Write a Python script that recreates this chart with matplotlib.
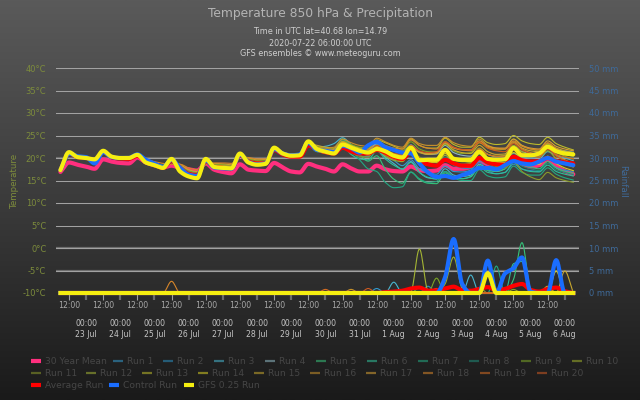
import numpy as np
import pandas as pd
import matplotlib
matplotlib.use("Agg")
import matplotlib.pyplot as plt
import matplotlib.dates as mdates
from matplotlib.colors import LinearSegmentedColormap
from matplotlib.lines import Line2D

plt.rcParams['font.family'] = ['DejaVu Sans']

# ---------------- data ----------------
start = "2020-07-22 06:00"
times = pd.date_range(start, periods=61, freq="6h")

title = "Temperature 850 hPa & Precipitation"
subtitle = ["Time in UTC lat=40.68 lon=14.79", "2020-07-22 06:00:00 UTC",
            "GFS ensembles \u00a9 www.meteoguru.com"]

temp_ticks = [-10, -5, 0, 5, 10, 15, 20, 25, 30, 35, 40]
rain_ticks = [0, 5, 10, 15, 20, 25, 30, 35, 40, 45, 50]

mean30 = [16.9, 19.0, 18.5, 18.1, 17.6, 19.7, 19.2, 18.9, 18.8, 20.1,
          19.0, 18.4, 17.9, 18.3, 17.8, 17.5, 17.2, 18.8, 17.4, 16.9,
          16.6, 18.6, 17.4, 17.2, 17.1, 18.9, 17.9, 17.0, 16.8, 18.7,
          18.1, 17.6, 17.0, 18.6, 17.7, 17.0, 17.0, 18.3, 17.5, 17.1,
          17.0, 18.1, 17.3, 17.1, 17.2, 18.4, 17.6, 17.6, 18.0, 19.3,
          18.6, 18.3, 18.5, 19.6, 18.7, 18.1, 18.4, 19.6, 18.2, 17.1, 16.4]

gfs025_run = [17.3, 21.3, 20.2, 20.0, 19.7, 21.6, 20.3, 20.0, 20.0, 20.7,
              19.0, 18.4, 17.8, 19.8, 17.0, 15.9, 15.5, 19.8, 18.0, 17.8,
              17.7, 21.0, 19.0, 18.5, 18.7, 22.3, 21.0, 20.5, 20.6, 23.7,
              22.0, 21.4, 21.0, 23.0, 22.3, 21.6, 21.2, 22.0, 21.5, 20.5,
              20.1, 22.3, 19.5, 19.6, 19.6, 21.8, 19.8, 19.6, 19.6, 21.4,
              19.8, 19.6, 19.7, 22.2, 20.6, 20.6, 21.0, 22.5, 21.5, 21.0, 20.8]

control_run = [17.3, 21.0, 20.4, 20.2, 18.8, 21.3, 20.2, 20.0, 20.0, 20.8,
               19.6, 18.8, 18.0, 19.6, 17.8, 16.3, 16.0, 19.5, 17.9, 17.7,
               17.6, 20.8, 19.1, 18.6, 18.8, 22.0, 21.0, 20.6, 20.8, 23.4,
               21.8, 21.6, 21.3, 22.7, 22.2, 21.2, 22.8, 23.6, 22.4, 21.8,
               21.2, 21.0, 18.8, 16.8, 15.8, 16.0, 15.6, 16.2, 16.8, 17.8,
               17.8, 17.5, 18.4, 19.3, 18.8, 18.6, 19.2, 20.0, 19.2, 18.8, 18.4]

average_run = [17.3, 21.0, 20.2, 20.0, 19.5, 21.3, 20.2, 19.9, 19.8, 20.5,
               19.2, 18.5, 17.8, 19.4, 17.8, 16.5, 16.2, 19.3, 18.0, 17.8,
               17.6, 20.6, 19.2, 18.8, 18.8, 21.8, 20.8, 20.3, 20.3, 22.8,
               21.9, 21.3, 21.0, 22.3, 21.5, 21.0, 21.0, 21.8, 21.2, 20.3,
               19.8, 21.3, 19.5, 18.6, 18.3, 19.6, 18.8, 18.3, 18.3, 20.0,
               19.0, 18.6, 18.5, 20.3, 19.5, 19.2, 19.3, 20.0, 19.3, 19.0, 18.8]

run01 = [17.3, 21.0, 20.3, 20.1, 19.5, 21.4, 20.4, 20.1, 19.9, 20.6, 19.3, 18.7,
         18.0, 19.3, 17.9, 16.6, 16.2, 19.4, 18.2, 18.0, 17.9, 20.6, 19.3, 18.9, 19.0, 21.8, 20.8, 20.4,
         20.5, 22.9, 21.6, 21.0, 20.8, 22.4, 21.4, 20.5, 20.3, 22.6, 21.0, 19.5, 18.3, 19.6, 17.6, 16.8,
         16.4, 18.2, 17.0, 16.9, 17.3, 19.4, 18.6, 18.5, 18.9, 21.0, 20.2, 20.0, 20.3, 22.4, 21.8, 21.6, 21.3]
run02 = [17.2, 21.2, 20.1, 19.9, 19.8, 21.5, 20.2, 20.0, 20.1, 20.8, 19.1, 18.5,
         17.9, 19.6, 17.7, 16.2, 15.9, 19.6, 18.1, 17.9, 17.6, 20.8, 19.1, 18.6, 18.9, 22.1, 20.9, 20.6,
         20.7, 23.4, 22.2, 21.8, 21.9, 24.0, 22.9, 22.0, 21.5, 23.0, 21.8, 20.6, 19.8, 21.5, 19.3, 18.6,
         18.3, 20.0, 18.4, 17.8, 17.6, 19.0, 17.2, 16.5, 16.8, 18.6, 17.5, 17.2, 17.0, 18.8, 17.9, 17.3, 17.0]
run03 = [17.3, 21.1, 20.2, 20.0, 19.6, 21.5, 20.3, 19.9, 19.9, 20.6, 19.2, 18.6,
         18.1, 19.2, 18.3, 17.0, 16.6, 18.9, 18.3, 18.2, 18.0, 20.3, 19.5, 19.0, 19.1, 21.6, 21.0, 20.6,
         20.5, 23.0, 22.4, 22.6, 23.2, 24.5, 23.0, 21.6, 20.6, 21.8, 20.2, 18.8, 17.5, 19.2, 16.8, 15.6,
         15.4, 17.6, 16.2, 15.9, 16.2, 18.6, 17.4, 17.0, 17.6, 20.2, 19.1, 19.0, 19.6, 21.4, 20.6, 20.0, 19.4]
run04 = [17.4, 21.2, 20.2, 20.0, 19.7, 21.6, 20.3, 20.0, 20.0, 20.7, 19.0, 18.4,
         17.8, 19.8, 17.6, 16.0, 15.8, 19.7, 18.0, 17.8, 17.7, 21.0, 19.1, 18.6, 18.8, 22.2, 21.1, 20.6,
         20.8, 23.5, 22.0, 21.4, 21.2, 23.2, 22.6, 22.0, 21.8, 23.2, 22.4, 21.6, 21.2, 22.9, 21.4, 20.8,
         20.9, 22.8, 21.2, 20.6, 20.4, 22.0, 20.8, 20.3, 20.5, 22.6, 21.4, 21.0, 21.2, 23.0, 22.0, 21.4, 21.2]
run05 = [17.3, 21.0, 20.3, 20.2, 19.8, 21.4, 20.4, 20.2, 20.1, 20.5, 19.4, 18.9,
         18.4, 19.0, 18.0, 17.1, 16.8, 18.9, 18.3, 18.4, 18.2, 20.2, 19.4, 19.1, 19.3, 21.6, 20.7, 20.3,
         20.4, 22.6, 21.4, 21.2, 22.0, 24.2, 22.6, 20.8, 19.3, 20.5, 17.5, 15.3, 14.4, 16.9, 15.2, 14.4,
         14.3, 16.7, 15.6, 15.4, 15.9, 18.3, 17.2, 17.1, 17.6, 20.0, 18.6, 18.0, 17.6, 19.2, 17.8, 17.0, 16.6]
run06 = [17.2, 21.1, 20.2, 20.0, 19.6, 21.4, 20.3, 20.0, 20.0, 20.6, 19.1, 18.5,
         17.9, 19.5, 17.9, 16.4, 16.1, 19.4, 18.1, 17.9, 17.8, 20.8, 19.2, 18.8, 18.9, 22.0, 20.9, 20.4,
         20.6, 23.2, 21.8, 21.2, 21.0, 22.6, 20.8, 19.8, 19.6, 21.6, 19.8, 18.4, 17.6, 19.0, 16.8, 15.7,
         15.3, 17.0, 15.8, 15.4, 15.8, 18.0, 16.8, 16.5, 16.8, 19.0, 17.6, 17.0, 16.9, 18.4, 17.0, 16.4, 16.0]
run07 = [17.3, 21.2, 20.2, 20.0, 19.7, 21.5, 20.2, 19.9, 19.9, 20.7, 19.0, 18.3,
         17.7, 19.7, 17.4, 15.8, 15.6, 19.9, 17.9, 17.6, 17.6, 21.1, 18.9, 18.4, 18.6, 22.4, 21.0, 20.5,
         20.6, 23.8, 22.3, 21.8, 21.6, 23.6, 22.0, 19.6, 17.6, 17.0, 14.6, 13.4, 13.6, 16.8, 15.4, 14.6,
         14.8, 17.0, 15.6, 15.0, 15.0, 17.4, 16.0, 15.6, 15.8, 18.2, 16.8, 16.2, 16.2, 17.8, 16.4, 15.6, 15.1]
run08 = [17.3, 21.1, 20.1, 20.0, 19.7, 21.6, 20.3, 20.0, 20.0, 20.7, 19.0, 18.4,
         17.8, 19.7, 17.6, 16.0, 15.7, 19.7, 18.0, 17.8, 17.7, 20.9, 19.0, 18.5, 18.7, 22.2, 21.0, 20.5,
         20.6, 23.6, 22.2, 21.6, 21.3, 23.2, 22.0, 21.3, 21.0, 22.4, 21.2, 20.3, 19.8, 21.8, 19.2, 18.4,
         18.2, 20.2, 18.8, 18.3, 18.2, 20.0, 18.6, 18.0, 17.8, 19.6, 18.2, 17.6, 17.2, 18.8, 17.4, 16.8, 16.3]
run09 = [17.3, 21.3, 20.2, 20.0, 19.7, 21.6, 20.3, 20.0, 20.0, 20.7, 19.1, 18.5,
         18.0, 19.6, 18.3, 17.2, 16.8, 19.2, 18.6, 18.5, 18.4, 20.6, 19.8, 19.5, 19.6, 21.9, 21.3, 20.9,
         21.0, 23.3, 22.6, 22.2, 22.0, 23.8, 23.0, 22.4, 22.2, 23.8, 22.6, 21.8, 21.6, 23.6, 22.0, 21.4,
         21.3, 23.0, 21.6, 21.0, 21.2, 23.4, 22.2, 21.8, 22.0, 24.2, 22.8, 22.0, 21.6, 23.0, 21.4, 20.4, 19.8]
run10 = [17.3, 21.2, 20.2, 20.0, 19.7, 21.5, 20.3, 20.0, 20.0, 20.7, 18.8, 18.1,
         17.5, 19.9, 17.2, 15.7, 15.4, 19.9, 17.9, 17.7, 17.6, 21.2, 18.9, 18.4, 18.6, 22.4, 21.2, 20.7,
         20.8, 23.9, 22.2, 21.6, 21.4, 23.4, 22.0, 21.2, 20.8, 22.0, 20.4, 19.5, 19.2, 21.4, 19.6, 19.2,
         19.4, 21.6, 20.2, 19.8, 20.0, 22.2, 20.8, 20.4, 20.6, 22.8, 21.4, 20.6, 20.2, 21.6, 19.8, 18.6, 18.0]
run11 = [17.2, 21.3, 20.2, 20.0, 19.7, 21.6, 20.3, 20.0, 20.0, 20.7, 19.0, 18.3,
         17.6, 19.9, 17.8, 16.6, 16.3, 19.0, 18.0, 17.9, 17.8, 20.8, 19.0, 18.5, 18.6, 22.0, 20.8, 20.3,
         20.4, 23.0, 21.6, 21.0, 20.8, 22.6, 21.2, 20.4, 20.2, 22.4, 20.6, 19.8, 19.6, 21.8, 20.2, 19.6,
         19.6, 21.8, 20.2, 19.4, 19.0, 20.8, 19.0, 18.2, 17.8, 19.2, 17.0, 15.8, 15.2, 16.8, 15.6, 15.0, 14.6]
run12 = [17.3, 21.3, 20.2, 20.0, 19.7, 21.6, 20.3, 20.0, 20.0, 20.7, 19.0, 18.4,
         17.8, 19.8, 17.5, 15.9, 15.6, 19.8, 18.0, 17.8, 17.7, 21.0, 19.0, 18.5, 18.7, 22.3, 21.0, 20.5,
         20.6, 23.7, 22.0, 21.4, 21.0, 23.0, 22.3, 21.6, 21.2, 22.0, 21.3, 20.4, 20.0, 22.0, 19.2, 18.4,
         18.6, 20.6, 19.0, 18.6, 18.8, 21.0, 19.8, 19.6, 19.7, 22.0, 20.6, 20.4, 20.8, 22.4, 21.4, 20.8, 20.4]
run13 = [17.4, 21.3, 20.2, 20.0, 19.7, 21.6, 20.4, 20.1, 20.0, 20.8, 19.0, 18.4,
         17.9, 19.8, 17.8, 16.4, 16.0, 19.5, 18.2, 18.0, 17.9, 21.0, 19.4, 18.9, 19.0, 22.2, 21.2, 20.8,
         20.9, 23.6, 22.4, 22.0, 21.8, 23.6, 22.8, 22.2, 22.0, 24.0, 23.4, 22.6, 22.0, 24.2, 22.8, 22.2,
         22.2, 24.4, 23.0, 22.4, 22.4, 24.6, 23.4, 23.0, 23.2, 25.0, 23.8, 23.2, 23.0, 24.6, 23.2, 22.4, 21.8]
run14 = [17.3, 21.4, 20.2, 20.0, 19.7, 21.6, 20.3, 20.0, 20.0, 20.7, 19.0, 18.4,
         17.8, 19.9, 17.4, 15.8, 15.5, 19.9, 17.9, 17.7, 17.6, 21.0, 18.9, 18.4, 18.7, 22.3, 21.0, 20.5,
         20.6, 23.6, 21.8, 21.2, 20.8, 22.8, 21.8, 21.2, 21.0, 22.6, 21.4, 20.4, 19.9, 21.8, 19.6, 19.0,
         19.0, 21.0, 19.6, 19.2, 19.2, 21.2, 19.6, 19.0, 19.0, 21.2, 19.6, 18.8, 18.6, 20.4, 18.8, 17.8, 17.2]
run15 = [17.3, 21.2, 20.2, 20.0, 19.7, 21.5, 20.3, 20.1, 20.1, 20.6, 19.4, 18.8,
         18.3, 19.2, 18.6, 17.4, 17.0, 18.8, 18.8, 18.7, 18.5, 20.4, 20.0, 19.6, 19.7, 21.8, 21.2, 20.8,
         20.9, 23.2, 22.8, 22.4, 22.2, 23.6, 22.4, 21.6, 21.2, 22.8, 21.8, 21.0, 20.6, 22.6, 21.2, 20.8,
         21.0, 23.2, 21.8, 21.2, 21.0, 22.8, 21.4, 20.8, 20.9, 23.4, 22.2, 21.6, 21.4, 23.2, 22.2, 21.6, 21.2]
run16 = [17.3, 21.2, 20.2, 20.0, 19.7, 21.6, 20.3, 20.0, 20.0, 20.7, 19.2, 18.6,
         18.0, 19.5, 18.0, 16.8, 16.4, 19.3, 18.4, 18.3, 18.2, 20.7, 19.6, 19.2, 19.3, 21.9, 21.1, 20.7,
         20.8, 23.1, 22.4, 22.2, 22.4, 24.2, 23.4, 22.8, 22.6, 24.4, 23.6, 22.8, 22.4, 24.4, 23.2, 22.8,
         22.8, 24.6, 23.4, 22.8, 22.6, 24.2, 22.8, 22.2, 22.0, 23.6, 22.0, 21.2, 20.8, 22.2, 20.6, 19.6, 18.8]
run17 = [17.3, 21.2, 20.2, 20.0, 19.7, 21.6, 20.3, 20.0, 20.0, 20.7, 19.0, 18.4,
         17.8, 19.7, 17.6, 16.1, 15.8, 19.7, 18.1, 17.9, 17.8, 21.0, 19.1, 18.6, 18.8, 22.2, 21.0, 20.5,
         20.6, 23.5, 22.0, 21.4, 21.2, 23.0, 22.0, 21.2, 20.9, 22.5, 21.4, 20.6, 20.4, 22.5, 21.4, 21.0,
         21.2, 23.4, 22.2, 21.8, 21.8, 23.8, 22.6, 22.2, 22.2, 24.2, 22.8, 22.2, 22.0, 23.8, 22.6, 22.0, 21.6]
run18 = [17.3, 21.1, 20.3, 20.1, 19.8, 21.4, 20.5, 20.3, 20.2, 20.5, 19.6, 19.2,
         18.8, 18.6, 18.6, 17.8, 17.4, 18.6, 18.9, 18.9, 18.8, 20.2, 20.1, 19.8, 19.8, 21.6, 21.2, 20.9,
         21.0, 22.8, 22.2, 21.8, 21.8, 23.4, 22.6, 22.0, 21.8, 23.6, 22.8, 22.2, 22.0, 24.0, 22.8, 22.2,
         22.0, 23.6, 22.4, 21.8, 21.6, 23.4, 22.4, 22.0, 22.0, 23.8, 22.6, 22.0, 21.8, 23.4, 22.0, 21.2, 20.6]
run19 = [17.3, 21.2, 20.2, 20.0, 19.7, 21.6, 20.3, 20.0, 20.0, 20.7, 19.1, 18.5,
         17.9, 19.6, 17.9, 16.5, 16.2, 19.4, 18.2, 18.1, 18.0, 20.8, 19.3, 18.8, 18.9, 22.0, 20.9, 20.4,
         20.5, 23.2, 21.8, 21.2, 21.0, 22.8, 21.8, 21.0, 20.7, 22.2, 20.8, 19.8, 19.4, 21.2, 19.8, 19.2,
         19.2, 21.4, 20.0, 19.6, 19.8, 22.0, 20.8, 20.4, 20.4, 22.4, 21.0, 20.4, 20.2, 22.0, 20.8, 20.2, 19.8]
run20 = [17.3, 21.1, 20.2, 20.0, 19.6, 21.6, 20.3, 20.0, 20.0, 20.7, 19.0, 18.4,
         17.8, 19.7, 17.5, 16.0, 15.7, 19.7, 18.0, 17.8, 17.7, 21.0, 19.0, 18.5, 18.7, 22.3, 21.0, 20.5,
         20.6, 23.6, 22.0, 21.4, 21.2, 23.0, 22.2, 21.6, 21.2, 22.8, 21.6, 21.0, 20.8, 22.8, 21.6, 21.2,
         21.4, 23.6, 22.4, 21.9, 21.8, 23.6, 22.2, 21.6, 21.4, 23.2, 21.8, 21.0, 20.6, 22.0, 20.4, 19.4, 18.6]

runs_temp = [run01, run02, run03, run04, run05, run06, run07, run08, run09, run10,
             run11, run12, run13, run14, run15, run16, run17, run18, run19, run20]
run_names = ["Run %d" % k for k in range(1, 21)]

# precipitation (mm), only non-zero 6-hourly values listed
rain_control = {"2020-08-02 12:00": 3.5, "2020-08-02 18:00": 12.0, "2020-08-03 00:00": 2.0,
                "2020-08-03 18:00": 7.2, "2020-08-04 06:00": 4.3, "2020-08-04 12:00": 5.5,
                "2020-08-04 18:00": 7.9, "2020-08-05 00:00": 0.3, "2020-08-05 18:00": 7.3}
rain_gfs025 = {"2020-08-03 18:00": 4.4}
rain_average = {"2020-07-31 18:00": 0.2, "2020-08-01 00:00": 0.3, "2020-08-01 06:00": 0.5,
                "2020-08-01 12:00": 1.0, "2020-08-01 18:00": 1.2, "2020-08-02 00:00": 0.5,
                "2020-08-02 06:00": 0.6, "2020-08-02 12:00": 1.0, "2020-08-02 18:00": 1.4,
                "2020-08-03 00:00": 0.6, "2020-08-03 06:00": 0.5, "2020-08-03 12:00": 0.9,
                "2020-08-03 18:00": 1.3, "2020-08-04 00:00": 0.6, "2020-08-04 06:00": 0.9,
                "2020-08-04 12:00": 1.6, "2020-08-04 18:00": 2.0, "2020-08-05 00:00": 0.7,
                "2020-08-05 06:00": 0.3, "2020-08-05 12:00": 0.9, "2020-08-05 18:00": 1.2,
                "2020-08-06 00:00": 0.4}
rain_runs = {
    "Run 1": {"2020-07-31 12:00": 1.0, "2020-08-01 06:00": 0.6},
    "Run 2": {"2020-08-02 00:00": 1.5},
    "Run 3": {"2020-08-01 00:00": 2.4, "2020-08-03 06:00": 4.0},
    "Run 5": {"2020-08-04 12:00": 3.0, "2020-08-04 18:00": 11.2, "2020-08-05 00:00": 1.0},
    "Run 6": {"2020-08-04 12:00": 6.5, "2020-08-04 18:00": 7.0},
    "Run 7": {"2020-08-04 00:00": 6.0},
    "Run 9": {"2020-08-01 18:00": 1.2, "2020-08-02 06:00": 3.3},
    "Run 10": {"2020-08-02 12:00": 2.0, "2020-08-02 18:00": 8.0, "2020-08-03 00:00": 1.0},
    "Run 11": {"2020-08-03 12:00": 1.2, "2020-08-04 12:00": 0.8},
    "Run 12": {"2020-08-01 12:00": 0.3, "2020-08-01 18:00": 9.8, "2020-08-02 00:00": 0.5},
    "Run 13": {"2020-08-05 12:00": 0.8},
    "Run 14": {"2020-08-05 18:00": 4.9},
    "Run 15": {"2020-08-05 12:00": 1.5, "2020-08-06 00:00": 4.9},
    "Run 16": {"2020-07-30 18:00": 0.8},
    "Run 17": {"2020-08-02 06:00": 1.0},
    "Run 18": {"2020-07-25 12:00": 2.6},
    "Run 19": {"2020-07-30 00:00": 0.8},
    "Run 20": {"2020-07-31 06:00": 1.0},
}

# ---------------- style ----------------
c_mean = "#ff2f7e"
c_avg = "#ff0000"
c_ctrl = "#1a6dff"
c_gfs = "#f5ee10"
run_colors = ["#3399cc", "#2a8fc0", "#48b6d0", "#8fb8c4", "#36c27a", "#2fbf9a", "#22a882",
              "#1f8a78", "#7aa526", "#9fb02a", "#8a9a2a", "#a4b534", "#bdbb2a", "#d6cc22",
              "#c8a72e", "#c9922a", "#d7a033", "#d7862a", "#d46c22", "#cc5a22"]


def rain_series(d):
    s = pd.Series(0.0, index=times)
    for k, v in d.items():
        s[pd.Timestamp(k)] = v
    return s.values


def smooth(x, y, n=12):
    """monotone cubic (spline-like) rendering between the given points"""
    x = np.asarray(x, float)
    y = np.asarray(y, float)
    h = np.diff(x)
    d = np.diff(y) / h
    m = np.zeros_like(y)
    m[0], m[-1] = d[0], d[-1]
    for k in range(1, len(y) - 1):
        if d[k - 1] * d[k] > 0:
            m[k] = 2.0 / (1.0 / d[k - 1] + 1.0 / d[k])
    xs, ys = [], []
    for k in range(len(y) - 1):
        t = np.linspace(0, 1, n, endpoint=False)
        h00 = 2 * t**3 - 3 * t**2 + 1
        h10 = t**3 - 2 * t**2 + t
        h01 = -2 * t**3 + 3 * t**2
        h11 = t**3 - t**2
        xs.append(x[k] + t * h[k])
        ys.append(h00 * y[k] + h10 * h[k] * m[k] + h01 * y[k + 1] + h11 * h[k] * m[k + 1])
    xs.append([x[-1]])
    ys.append([y[-1]])
    return np.concatenate(xs), np.concatenate(ys)


W, H = 640, 400
fig = plt.figure(figsize=(6.4, 4.0), dpi=100)

bg = fig.add_axes([0, 0, 1, 1], zorder=-10)
grad = np.linspace(0, 1, 256)[:, None]
bg.imshow(grad, aspect="auto", extent=[0, 1, 0, 1],
          cmap=LinearSegmentedColormap.from_list("bg", ["#5a5a5a", "#3b3b3b", "#1a1a1a"]))
bg.axis("off")

ax = fig.add_axes([56 / W, 1 - 293 / H, 523 / W, 225 / H])
ax.set_facecolor("none")
ax2 = ax.twinx()
ax2.set_facecolor("none")

xn = mdates.date2num(times)
t0 = times[0]
ax.set_xlim(mdates.date2num(t0 - pd.Timedelta(hours=3.1)),
            mdates.date2num(t0 + pd.Timedelta(hours=364)))
ax.set_ylim(-10, 40)
ax2.set_ylim(0, 50)

# grid
ax.set_yticks(temp_ticks)
ax.set_yticklabels(["%d\u00b0C" % v for v in temp_ticks])
ax.grid(axis="y", color="#a2a2a2", lw=0.75, zorder=0)
for v in (20, 0, -5):
    ax.axhline(v, color="#6c6c6c", lw=1.6, zorder=0.5)
ax2.set_yticks(rain_ticks)
ax2.set_yticklabels(["%d mm" % v for v in rain_ticks])

for a in (ax, ax2):
    for s in a.spines.values():
        s.set_visible(False)

ax.tick_params(axis="y", length=0, pad=7, labelsize=6, labelcolor="#7d8c3c")
ax2.tick_params(axis="y", length=0, pad=7, labelsize=6, labelcolor="#3f6a99")

ax.xaxis.set_major_locator(mdates.HourLocator(byhour=12))
ax.xaxis.set_major_formatter(mdates.DateFormatter("%H:%M"))
ax.xaxis.set_minor_locator(mdates.HourLocator(byhour=0))
ax.xaxis.set_minor_formatter(mdates.DateFormatter("%H:%M\n%-d %b"))
ax.tick_params(axis="x", which="major", length=5, width=0.8, color="#a0a0a0",
               labelsize=5.6, labelcolor="#a8a8a8", pad=1)
ax.tick_params(axis="x", which="minor", length=5, width=1.6, color="#6a6a6a",
               labelsize=5.6, labelcolor="#c4c4c4", pad=14)

# temperature series
ax.plot(*smooth(xn, mean30), color=c_mean, lw=3.0, zorder=2, solid_capstyle="round", clip_on=False)
for vals, col in zip(runs_temp, run_colors):
    ax.plot(*smooth(xn, vals), color=col, lw=0.8, zorder=3, clip_on=False)
ax.plot(*smooth(xn, average_run), color=c_avg, lw=3.0, zorder=4, solid_capstyle="round", clip_on=False)
ax.plot(*smooth(xn, control_run), color=c_ctrl, lw=3.0, zorder=5, solid_capstyle="round", clip_on=False)
ax.plot(*smooth(xn, gfs025_run), color=c_gfs, lw=3.0, zorder=6, solid_capstyle="round", clip_on=False)

# precipitation series
for name, col in zip(run_names, run_colors):
    ax2.plot(*smooth(xn, rain_series(rain_runs.get(name, {}))), color=col, lw=0.8, zorder=3, clip_on=False)
ax2.plot(*smooth(xn, rain_series(rain_average)), color=c_avg, lw=3.0, zorder=4, clip_on=False)
ax2.plot(*smooth(xn, rain_series(rain_control)), color=c_ctrl, lw=3.0, zorder=5, clip_on=False)
ax2.plot(*smooth(xn, rain_series(rain_gfs025)), color=c_gfs, lw=3.0, zorder=6, clip_on=False)

# titles and axis titles
fig.text(0.5, 1 - 13 / H, title, ha="center", va="center", fontsize=8.8, color="#b4b4b4")
for k, s in enumerate(subtitle):
    fig.text(0.5, 1 - (32 + 11 * k) / H, s, ha="center", va="center", fontsize=5.8, color="#cfcfcf")
fig.text(15 / W, 1 - 181 / H, "Temperature", rotation=90, ha="center", va="center",
         fontsize=6.3, color="#7d8c3c")
fig.text(623 / W, 1 - 181 / H, "Rainfall", rotation=270, ha="center", va="center",
         fontsize=6.3, color="#3f6a99")

# legend (manual, Highcharts-like rows)
legend_items = ([("30 Year Mean", c_mean, 3.0)] +
                [(n, c, 1.6) for n, c in zip(run_names, run_colors)] +
                [("Average Run", c_avg, 3.0), ("Control Run", c_ctrl, 3.0), ("GFS 0.25 Run", c_gfs, 3.0)])
legend_x = [31, 113, 163, 214, 265, 316, 367, 418, 469, 521, 572,
            31, 86, 142, 198, 254, 310, 366, 423, 480, 537,
            31, 109, 184]
legend_y = [361] * 11 + [373] * 10 + [385] * 3
for (name, col, lw), lx, ly in zip(legend_items, legend_x, legend_y):
    fig.add_artist(Line2D([lx / W, (lx + 10) / W], [1 - ly / H, 1 - ly / H], color=col, lw=lw,
                          alpha=1.0 if lw > 2 else 0.55, solid_capstyle="butt"))
    fig.text((lx + 14) / W, 1 - ly / H, name, ha="left", va="center", fontsize=6.6, color="#464646")

fig.savefig("out.png", dpi=100)
